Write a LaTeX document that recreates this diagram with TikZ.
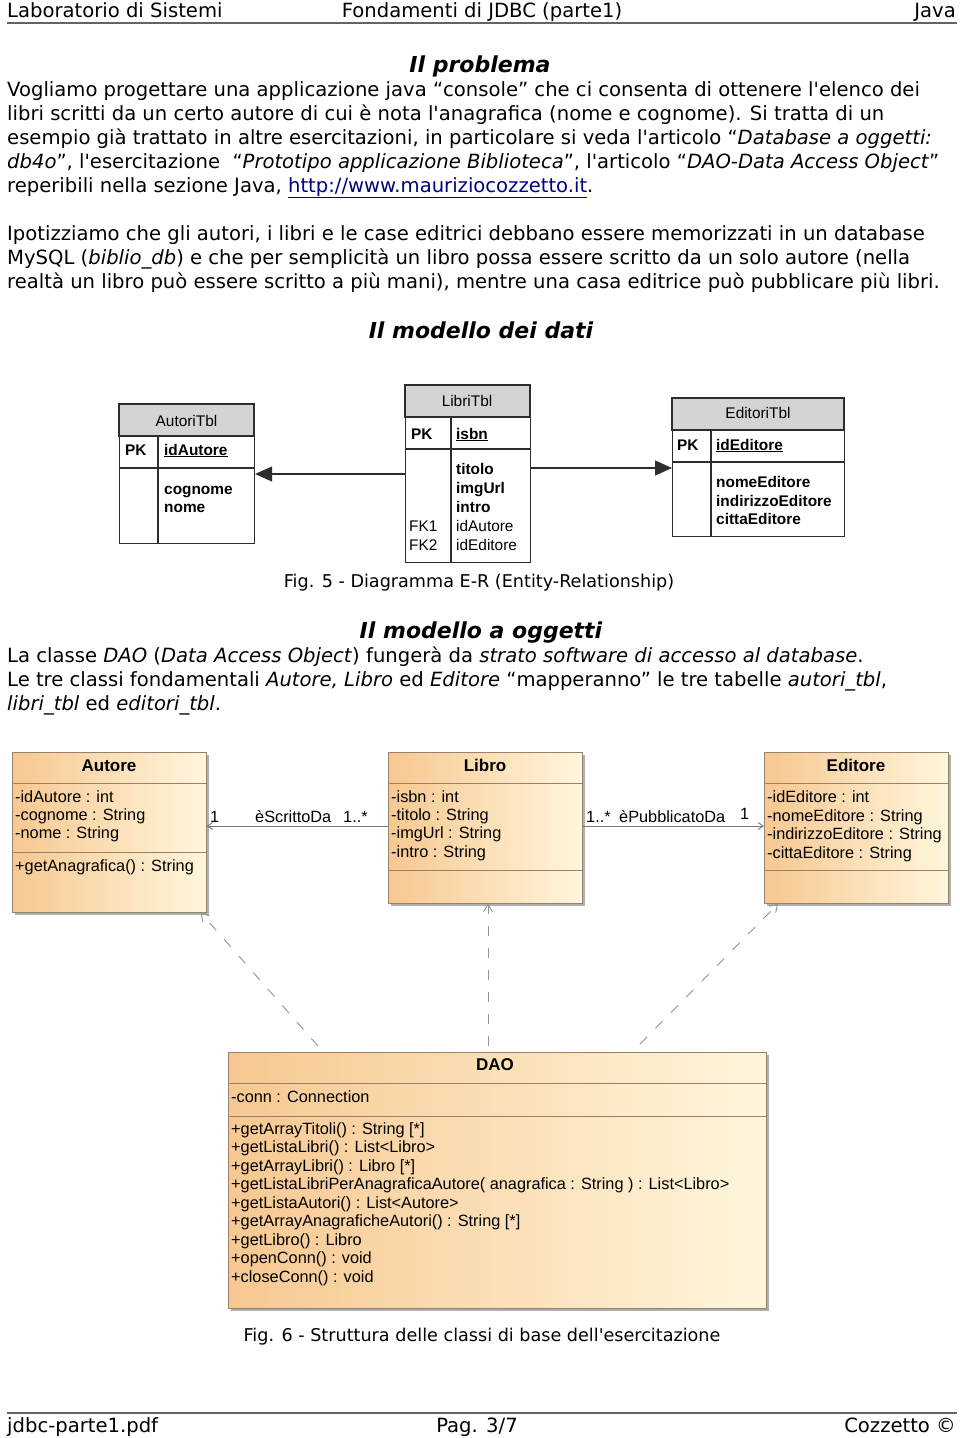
\documentclass[tikz,border=0pt]{standalone}
\usepackage{fontspec}
\setmainfont{DejaVu Sans}[Ligatures=TeXOff]
\newfontfamily\diafont{Liberation Sans}
\usetikzlibrary{arrows.meta}

\definecolor{linkblue}{RGB}{0,0,128}
\definecolor{ergray}{RGB}{212,212,212}
\definecolor{erline}{RGB}{45,45,45}
\definecolor{umlA}{RGB}{247,200,145}
\definecolor{umlB}{RGB}{255,246,220}
\definecolor{umlline}{RGB}{150,130,108}
\definecolor{assocgray}{RGB}{120,120,120}
\definecolor{rulegray}{RGB}{100,100,100}
\definecolor{shadowgray}{RGB}{175,175,175}

\tikzset{
  txt/.style={anchor=base west, inner sep=0pt, font=\fontsize{19.6}{24}\selectfont},
  hdtxt/.style={inner sep=0pt, font=\fontsize{19.6}{24}\selectfont},
  ttl/.style={anchor=base, inner sep=0pt, font=\fontsize{22}{26}\selectfont\bfseries\itshape},
  figcap/.style={anchor=base, inner sep=0pt, font=\fontsize{17.6}{20}\selectfont},
  ertbl/.style={draw=erline, line width=1.1pt, fill=white, anchor=north west, inner sep=0pt},
  erhead/.style={fill=ergray, draw=erline, line width=1.1pt},
  ersep/.style={draw=erline, line width=1.1pt},
  ertxt/.style={anchor=base west, inner sep=0pt, font=\diafont\fontsize{15.4}{18}\selectfont},
  erkey/.style={anchor=base west, inner sep=0pt, font=\diafont\fontsize{15.4}{18}\selectfont\bfseries},
  erlink/.style={draw=erline, line width=1.1pt, -{Triangle[length=17pt,width=15pt]}},
  umlcls/.style={draw=umlline, line width=.8pt, left color=umlA, right color=umlB, anchor=north west, inner sep=0pt},
  umlsep/.style={draw=umlline, line width=.8pt},
  umltxt/.style={anchor=base west, inner sep=0pt, font=\diafont\fontsize{16.3}{18}\selectfont},
  umlttl/.style={anchor=base, inner sep=0pt, font=\diafont\fontsize{17}{20}\selectfont\bfseries},
  assoc/.style={draw=assocgray, line width=.9pt, -{Straight Barb[length=5pt,width=7pt]}},
  dep/.style={draw=assocgray!80, line width=.9pt, dash pattern=on 10pt off 12pt, -{Straight Barb[length=7pt,width=9pt]}}
}

\begin{document}
\begin{tikzpicture}[x=1pt,y=-1pt]
\path[use as bounding box, fill=white] (0,0) rectangle (960,1438);

% header
\node[hdtxt, anchor=base west] (hl) at (7,17) {Laboratorio di Sistemi};
\node[hdtxt, anchor=base] (hc) at (482,17) {Fondamenti di JDBC (parte1)};
\node[hdtxt, anchor=base east] (hr) at (956,17) {Java};
\draw[rulegray, line width=1.5pt] (7,23) -- (957,23);

% Il problema
\node[ttl] (t1) at (480,72) {Il problema};
\node[txt] (p1) at (7,96) {Vogliamo progettare una applicazione java “console” che ci consenta di ottenere l'elenco dei};
\node[txt] (p2) at (7,120) {libri scritti da un certo autore di cui è nota l'anagrafica (nome e cognome). Si tratta di un};
\node[txt] (p3) at (7,144) {esempio già trattato in altre esercitazioni, in particolare si veda l'articolo “\textit{Database a oggetti:}};
\node[txt] (p4) at (7,168) {\textit{db4o}”, l'esercitazione\ \ “\textit{Prototipo applicazione Biblioteca}”, l'articolo “\textit{DAO-Data Access Object}”};
\node[txt] (p5) at (7,192) {reperibili nella sezione Java, \textcolor{linkblue}{\underline{http://www.mauriziocozzetto.it}}.};

\node[txt] (q1) at (7,240) {Ipotizziamo che gli autori, i libri e le case editrici debbano essere memorizzati in un database};
\node[txt] (q2) at (7,264) {MySQL (\textit{biblio\_db}) e che per semplicità un libro possa essere scritto da un solo autore (nella};
\node[txt] (q3) at (7,288) {realtà un libro può essere scritto a più mani), mentre una casa editrice può pubblicare più libri.};

% Il modello dei dati
\node[ttl] (t2) at (481,338) {Il modello dei dati};

% AutoriTbl
\node[ertbl, minimum width=135pt, minimum height=139pt] (autori) at (119,404) {};
\filldraw[erhead] (119,404) rectangle (254,436);
\draw[ersep] (119,468) -- (254,468) (158,436) -- (158,543);
\node[ertxt, anchor=base] (autorih) at (186.5,426) {AutoriTbl};
\node[erkey] (autoripk) at (125,455) {PK};
\node[erkey] (autorik) at (164,455) {\underline{idAutore}};
\node[erkey] (autori1) at (164,494) {cognome};
\node[erkey] (autori2) at (164,512) {nome};

% LibriTbl
\node[ertbl, minimum width=125pt, minimum height=177pt] (libri) at (405,385) {};
\filldraw[erhead] (405,385) rectangle (530,417);
\draw[ersep] (405,449) -- (530,449) (451,417) -- (451,562);
\node[ertxt, anchor=base] (librih) at (467,406) {LibriTbl};
\node[erkey] (libripk) at (411,439) {PK};
\node[erkey] (librik) at (456,439) {\underline{isbn}};
\node[erkey] (libri1) at (456,474) {titolo};
\node[erkey] (libri2) at (456,493) {imgUrl};
\node[erkey] (libri3) at (456,512) {intro};
\node[ertxt] (librifk1) at (409,531) {FK1};
\node[ertxt] (libri4) at (456,531) {idAutore};
\node[ertxt] (librifk2) at (409,550) {FK2};
\node[ertxt] (libri5) at (456,550) {idEditore};

% EditoriTbl
\node[ertbl, minimum width=172pt, minimum height=138pt] (editori) at (672,398) {};
\filldraw[erhead] (672,398) rectangle (844,430);
\draw[ersep] (672,462) -- (844,462) (711,430) -- (711,536);
\node[ertxt, anchor=base] (editorih) at (758,418) {EditoriTbl};
\node[erkey] (editoripk) at (677,450) {PK};
\node[erkey] (editorik) at (716,450) {\underline{idEditore}};
\node[erkey] (editori1) at (716,487) {nomeEditore};
\node[erkey] (editori2) at (716,506) {indirizzoEditore};
\node[erkey] (editori3) at (716,524) {cittaEditore};

% relazioni
\coordinate (ya) at (0,474);
\coordinate (yb) at (0,468);
\draw[erlink] (libri.west |- ya) -- (autori.east |- ya);
\draw[erlink] (libri.east |- yb) -- (editori.west |- yb);

\node[figcap] (c1) at (479,587) {Fig. 5 - Diagramma E-R (Entity-Relationship)};

% Il modello a oggetti
\node[ttl] (t3) at (481,638) {Il modello a oggetti};
\node[txt] (r1) at (7,662) {La classe \textit{DAO} (\textit{Data Access Object}) fungerà da \textit{strato software di accesso al database}.};
\node[txt] (r2) at (7,686) {Le tre classi fondamentali \textit{Autore, Libro} ed \textit{Editore} “mapperanno” le tre tabelle \textit{autori\_tbl},};
\node[txt] (r3) at (7,710) {\textit{libri\_tbl} ed \textit{editori\_tbl}.};

% classi (ombre)
\fill[shadowgray] (15,755) rectangle (209,915);
\fill[shadowgray] (391,755) rectangle (585,906);
\fill[shadowgray] (767,755) rectangle (951,906);
\fill[shadowgray] (231,1055) rectangle (769,1311);

% Autore
\node[umlcls, minimum width=194pt, minimum height=160pt] (autore) at (12,752) {};
\draw[umlsep] (12,783) -- (206,783) (12,852) -- (206,852);
\node[umlttl] (autoret) at (109,771) {Autore};
\node[umltxt] (autorea1) at (15,802) {-idAutore : int};
\node[umltxt] (autorea2) at (15,820) {-cognome : String};
\node[umltxt] (autorea3) at (15,838) {-nome : String};
\node[umltxt] (autorem1) at (15,871) {+getAnagrafica() : String};

% Libro
\node[umlcls, minimum width=194pt, minimum height=151pt] (libro) at (388,752) {};
\draw[umlsep] (388,783) -- (582,783) (388,870) -- (582,870);
\node[umlttl] (librot) at (485,771) {Libro};
\node[umltxt] (libroa1) at (391,802) {-isbn : int};
\node[umltxt] (libroa2) at (391,820) {-titolo : String};
\node[umltxt] (libroa3) at (391,838) {-imgUrl : String};
\node[umltxt] (libroa4) at (391,857) {-intro : String};

% Editore
\node[umlcls, minimum width=184pt, minimum height=151pt] (editore) at (764,752) {};
\draw[umlsep] (764,783) -- (948,783) (764,870) -- (948,870);
\node[umlttl] (editoret) at (856,771) {Editore};
\node[umltxt] (editorea1) at (767,802) {-idEditore : int};
\node[umltxt] (editorea2) at (767,821) {-nomeEditore : String};
\node[umltxt] (editorea3) at (767,839) {-indirizzoEditore : String};
\node[umltxt] (editorea4) at (767,858) {-cittaEditore : String};

% DAO
\node[umlcls, minimum width=538pt, minimum height=256pt] (dao) at (228,1052) {};
\draw[umlsep] (228,1083) -- (766,1083) (228,1116) -- (766,1116);
\node[umlttl] (daot) at (495,1070) {DAO};
\node[umltxt] (daoa) at (231,1102) {-conn : Connection};
\foreach \m [count=\i] in {+getArrayTitoli() : String [*],
    +getListaLibri() : List<Libro>,
    +getArrayLibri() : Libro [*],
    +getListaLibriPerAnagraficaAutore( anagrafica : String ) : List<Libro>,
    +getListaAutori() : List<Autore>,
    +getArrayAnagraficheAutori() : String [*],
    +getLibro() : Libro,
    +openConn() : void,
    +closeConn() : void}
  \node[umltxt] (daom\i) at (231,{1134+18.5*(\i-1)}) {\m};

% associazioni
\coordinate (ay) at (0,826);
\draw[assoc] (libro.west |- ay) -- (autore.east |- ay);
\draw[assoc] (libro.east |- ay) -- (editore.west |- ay);
\node[umltxt] (as1) at (210,822) {1};
\node[umltxt] (as2) at (255,822) {èScrittoDa};
\node[umltxt] (as3) at (343,822) {1..*};
\node[umltxt] (as4) at (586,822) {1..*};
\node[umltxt] (as5) at (619,822) {èPubblicatoDa};
\node[umltxt] (as6) at (740,819) {1};

% dipendenze
\coordinate (dl) at (318,1046);
\coordinate (dm) at (488,1046);
\coordinate (dr) at (640,1044);
\draw[dep] (dl) -- ([xshift=-6pt]autore.south east);
\draw[dep] (dm) -- (dm |- libro.south);
\draw[dep] (dr) -- ([xshift=14pt]editore.south west);

\node[figcap] (c2) at (482,1341) {Fig. 6 - Struttura delle classi di base dell'esercitazione};

% footer
\draw[rulegray, line width=1.5pt] (7,1413) -- (957,1413);
\node[hdtxt, anchor=base west] (fl) at (7,1432) {jdbc-parte1.pdf};
\node[hdtxt, anchor=base] (fc) at (477,1432) {Pag. 3/7};
\node[hdtxt, anchor=base east] (fr) at (956,1432) {Cozzetto ©};
\end{tikzpicture}
\end{document}
